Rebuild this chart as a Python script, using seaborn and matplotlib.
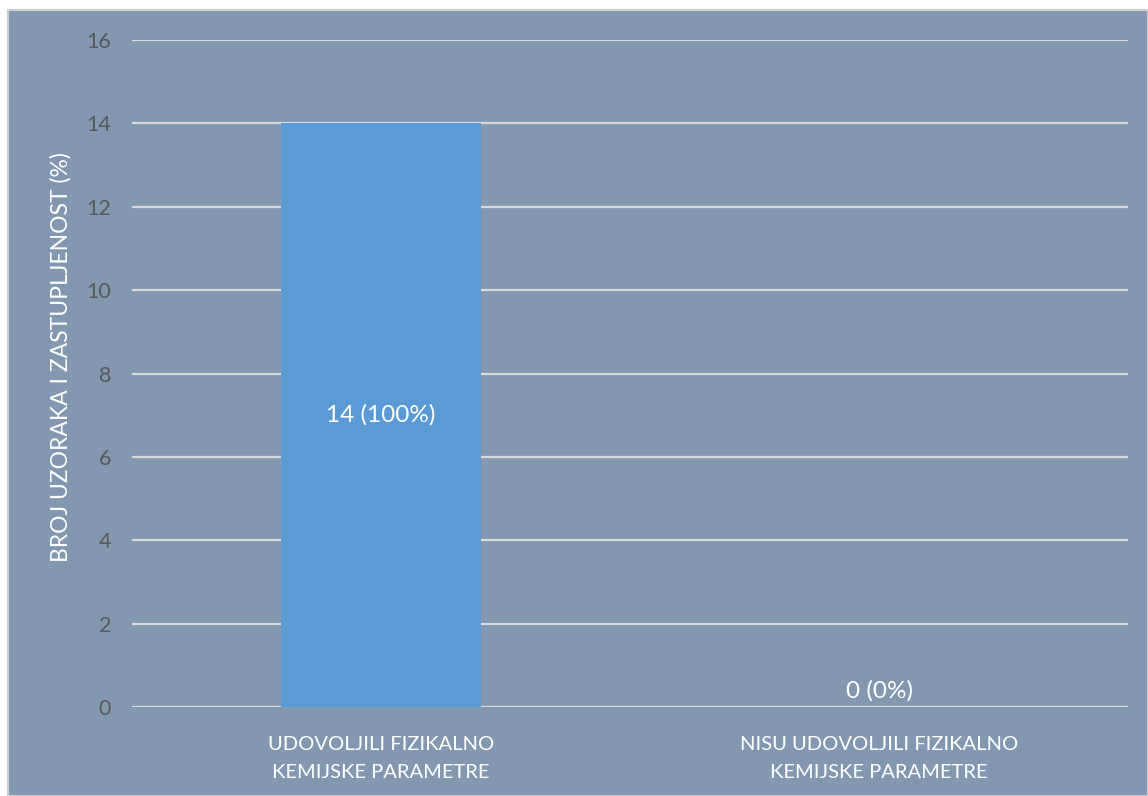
import matplotlib
matplotlib.use("Agg")
import matplotlib.pyplot as plt
import seaborn as sns
import pandas as pd
from matplotlib.patches import Rectangle

categories = ["UDOVOLJILI FIZIKALNO\nKEMIJSKE PARAMETRE",
              "NISU UDOVOLJILI FIZIKALNO\nKEMIJSKE PARAMETRE"]
counts = [14, 0]
shares = [100, 0]
y_ticks = [0, 2, 4, 6, 8, 10, 12, 14, 16]
y_label = "BROJ UZORAKA I ZASTUPLJENOST (%)"

bg = "#8497B0"
bar_color = "#5B9BD5"
grid_color = "#D9D9D9"
tick_color = "#595959"

sns.set_theme(style="white")
plt.rcParams["font.family"] = ["Lato", "DejaVu Sans"]

fig = plt.figure(figsize=(11.48, 7.96), dpi=100)
fig.patch.set_facecolor("white")
# chart area panel with thin border
fig.patches.append(Rectangle((8 / 1148, 0), 1 - 8 / 1148, 1 - 10 / 796,
                             transform=fig.transFigure, facecolor=bg,
                             edgecolor="#D0D0D0", linewidth=1.5, zorder=-10))

ax = fig.add_axes([132 / 1148, 1 - 707 / 796, (1128 - 132) / 1148, (707 - 40) / 796])
ax.set_facecolor("none")

df = pd.DataFrame({"category": categories, "count": counts})
sns.barplot(data=df, x="category", y="count", color=bar_color, saturation=1,
            width=0.40, linewidth=0, ax=ax, zorder=3)

ax.set_ylim(0, 16)
ax.set_yticks(y_ticks)
ax.yaxis.grid(True, color=grid_color, linewidth=1.6, zorder=0)
ax.set_axisbelow(True)
for s in ax.spines.values():
    s.set_visible(False)

ax.tick_params(axis="y", colors=tick_color, labelsize=15.5, length=0, pad=15)
ax.tick_params(axis="x", colors="white", labelsize=14.5, length=0, pad=21)
for lab in ax.get_xticklabels():
    lab.set_linespacing(1.75)
    lab.set_color("white")
for lab in ax.get_yticklabels():
    lab.set_color(tick_color)

ax.set_xlabel("")
ax.set_ylabel(y_label, color="white", fontsize=16.5)
ax.yaxis.set_label_coords(-0.061, 0.525)

for i, (c, p) in enumerate(zip(counts, shares)):
    y = c / 2 if c > 0 else 0.38
    ax.text(i, y, f"{c} ({p}%)", ha="center", va="center",
            color="white", fontsize=17.5)

fig.savefig("out.png", dpi=100, facecolor=fig.get_facecolor())
